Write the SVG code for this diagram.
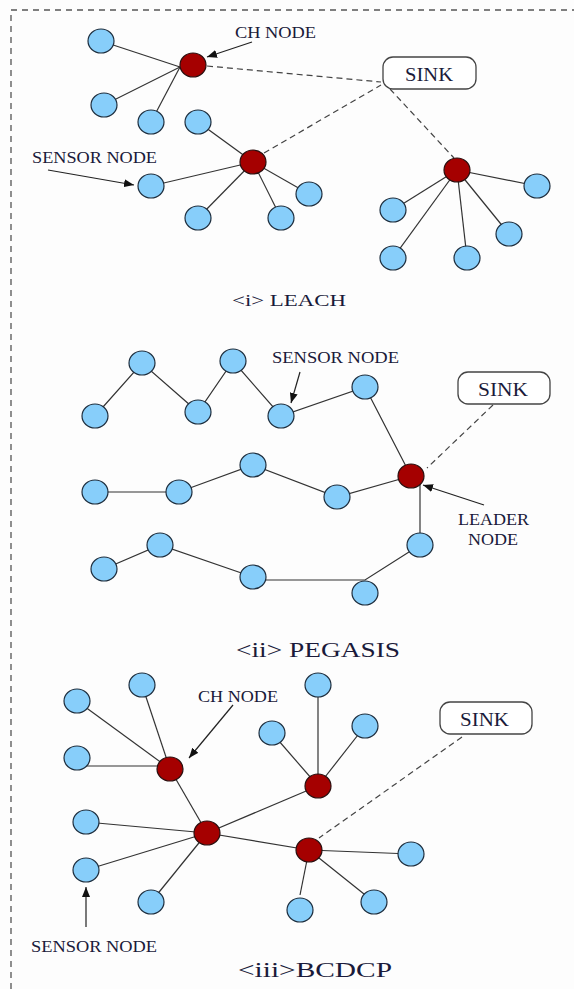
<svg xmlns="http://www.w3.org/2000/svg" width="574" height="989" viewBox="0 0 574 989">
<defs>
<style>
.bg{fill:#fdfdfd}
.frame{fill:none;stroke:#555;stroke-width:1.3;stroke-dasharray:6 5}
.s{fill:#87cefa;stroke:#1e2e3e;stroke-width:1.2}
.ch{fill:#a50000;stroke:#2a1010;stroke-width:1.2}
.e{stroke:#333;stroke-width:1.2;fill:none}
.d{stroke:#444;stroke-width:1.2;fill:none;stroke-dasharray:6 4}
.a{stroke:#222;stroke-width:1.2;fill:none;marker-end:url(#ah)}
.sink{fill:#fff;stroke:#444;stroke-width:1.3}
.t{font-family:"Liberation Serif","Times New Roman",serif;fill:#1a1a3a}
</style>
<marker id="ah" viewBox="0 0 10 8" refX="10" refY="4" markerWidth="10" markerHeight="8" markerUnits="userSpaceOnUse" orient="auto">
<path d="M0,0 L10,4 L0,8 Z" fill="#111"/>
</marker>
</defs>
<rect class="bg" x="0" y="0" width="574" height="989"/>
<path class="frame" d="M11,989 V10 H574"/>

<g id="connectors">
<!-- LEACH -->
<line class="e" x1="101" y1="41" x2="180" y2="67"/>
<line class="e" x1="104" y1="105" x2="180" y2="67"/>
<line class="e" x1="151" y1="122" x2="180" y2="67"/>
<line class="e" x1="198" y1="122" x2="253" y2="162"/>
<line class="e" x1="151" y1="186" x2="253" y2="162"/>
<line class="e" x1="198" y1="218" x2="253" y2="162"/>
<line class="e" x1="281" y1="218" x2="253" y2="162"/>
<line class="e" x1="309" y1="194" x2="253" y2="162"/>
<line class="e" x1="393" y1="210" x2="457" y2="170"/>
<line class="e" x1="393" y1="258" x2="457" y2="170"/>
<line class="e" x1="467" y1="258" x2="457" y2="170"/>
<line class="e" x1="509" y1="234" x2="457" y2="170"/>
<line class="e" x1="537" y1="186" x2="457" y2="170"/>
<line class="d" x1="207" y1="66" x2="381" y2="82"/>
<line class="d" x1="264" y1="153" x2="381" y2="85"/>
<line class="d" x1="390" y1="89" x2="454" y2="158"/>
<!-- PEGASIS -->
<polyline class="e" points="95,416 142,363 198,412 233,361 281,416 365,387 411,476"/>
<polyline class="e" points="95,492 179,492 253,465 337,497 411,476"/>
<line class="e" x1="420" y1="485" x2="420" y2="545"/>
<polyline class="e" points="420,545 365,580 253,580"/>
<polyline class="e" points="253,577 160,545 104,569"/>
<line class="d" x1="493" y1="405" x2="427" y2="468"/>
<!-- BCDCP -->
<line class="e" x1="77" y1="701" x2="170" y2="769"/>
<line class="e" x1="142" y1="685" x2="170" y2="769"/>
<line class="e" x1="77" y1="766" x2="170" y2="766"/>
<line class="e" x1="170" y1="769" x2="207" y2="833"/>
<line class="e" x1="318" y1="685" x2="318" y2="786"/>
<line class="e" x1="272" y1="733" x2="318" y2="786"/>
<line class="e" x1="365" y1="726" x2="318" y2="786"/>
<line class="e" x1="318" y1="786" x2="207" y2="833"/>
<line class="e" x1="86" y1="822" x2="207" y2="833"/>
<line class="e" x1="86" y1="870" x2="207" y2="833"/>
<line class="e" x1="151" y1="902" x2="207" y2="833"/>
<line class="e" x1="207" y1="833" x2="309" y2="850"/>
<line class="e" x1="411" y1="854" x2="309" y2="850"/>
<line class="e" x1="374" y1="902" x2="309" y2="850"/>
<line class="e" x1="309" y1="850" x2="300" y2="895"/>
<line class="d" x1="462" y1="737" x2="319" y2="838"/>
<!-- label arrows -->
<line class="a" x1="252" y1="42" x2="207" y2="57"/>
<line class="a" x1="48" y1="170" x2="134" y2="185"/>
<line class="a" x1="300" y1="372" x2="291" y2="403"/>
<line class="a" x1="484" y1="505" x2="423" y2="485"/>
<line class="a" x1="233" y1="705" x2="189" y2="758"/>
<line class="a" x1="86" y1="927" x2="86" y2="887"/>
</g>

<!-- LEACH nodes -->
<g id="l-s1"><ellipse class="s" cx="101" cy="41" rx="13" ry="12"/></g>
<g id="l-s2"><ellipse class="s" cx="104" cy="105" rx="13" ry="12"/></g>
<g id="l-s3"><ellipse class="s" cx="151" cy="122" rx="13" ry="12"/></g>
<g id="l-s4"><ellipse class="s" cx="198" cy="122" rx="13" ry="12"/></g>
<g id="l-s5"><ellipse class="s" cx="151" cy="186" rx="13" ry="12"/></g>
<g id="l-s6"><ellipse class="s" cx="198" cy="218" rx="13" ry="12"/></g>
<g id="l-s7"><ellipse class="s" cx="281" cy="218" rx="13" ry="12"/></g>
<g id="l-s8"><ellipse class="s" cx="309" cy="194" rx="13" ry="12"/></g>
<g id="l-s9"><ellipse class="s" cx="393" cy="210" rx="13" ry="12"/></g>
<g id="l-s10"><ellipse class="s" cx="393" cy="258" rx="13" ry="12"/></g>
<g id="l-s11"><ellipse class="s" cx="467" cy="258" rx="13" ry="12"/></g>
<g id="l-s12"><ellipse class="s" cx="509" cy="234" rx="13" ry="12"/></g>
<g id="l-s13"><ellipse class="s" cx="537" cy="186" rx="13" ry="12"/></g>
<g id="l-ch1"><ellipse class="ch" cx="193" cy="65" rx="13" ry="12"/></g>
<g id="l-ch2"><ellipse class="ch" cx="253" cy="162" rx="13" ry="12"/></g>
<g id="l-ch3"><ellipse class="ch" cx="457" cy="170" rx="13" ry="12"/></g>
<g id="l-sink"><rect class="sink" x="383" y="57" width="93" height="32" rx="10"/><text class="t" x="405" y="81" font-size="19" textLength="48" lengthAdjust="spacingAndGlyphs">SINK</text></g>

<!-- PEGASIS nodes -->
<g id="p-s1"><ellipse class="s" cx="95" cy="416" rx="13" ry="12"/></g>
<g id="p-s2"><ellipse class="s" cx="142" cy="363" rx="13" ry="12"/></g>
<g id="p-s3"><ellipse class="s" cx="198" cy="412" rx="13" ry="12"/></g>
<g id="p-s4"><ellipse class="s" cx="233" cy="361" rx="13" ry="12"/></g>
<g id="p-s5"><ellipse class="s" cx="281" cy="416" rx="13" ry="12"/></g>
<g id="p-s6"><ellipse class="s" cx="365" cy="387" rx="13" ry="12"/></g>
<g id="p-s7"><ellipse class="s" cx="95" cy="492" rx="13" ry="12"/></g>
<g id="p-s8"><ellipse class="s" cx="179" cy="492" rx="13" ry="12"/></g>
<g id="p-s9"><ellipse class="s" cx="253" cy="465" rx="13" ry="12"/></g>
<g id="p-s10"><ellipse class="s" cx="337" cy="497" rx="13" ry="12"/></g>
<g id="p-s11"><ellipse class="s" cx="420" cy="545" rx="13" ry="12"/></g>
<g id="p-s12"><ellipse class="s" cx="365" cy="593" rx="13" ry="12"/></g>
<g id="p-s13"><ellipse class="s" cx="253" cy="577" rx="13" ry="12"/></g>
<g id="p-s14"><ellipse class="s" cx="160" cy="545" rx="13" ry="12"/></g>
<g id="p-s15"><ellipse class="s" cx="104" cy="569" rx="13" ry="12"/></g>
<g id="p-leader"><ellipse class="ch" cx="411" cy="476" rx="13" ry="12"/></g>
<g id="p-sink"><rect class="sink" x="458" y="372" width="92" height="32" rx="10"/><text class="t" x="478" y="396" font-size="19" textLength="50" lengthAdjust="spacingAndGlyphs">SINK</text></g>

<!-- BCDCP nodes -->
<g id="b-s1"><ellipse class="s" cx="77" cy="701" rx="13" ry="12"/></g>
<g id="b-s2"><ellipse class="s" cx="142" cy="685" rx="13" ry="12"/></g>
<g id="b-s3"><ellipse class="s" cx="77" cy="758" rx="13" ry="12"/></g>
<g id="b-s4"><ellipse class="s" cx="318" cy="685" rx="13" ry="12"/></g>
<g id="b-s5"><ellipse class="s" cx="272" cy="733" rx="13" ry="12"/></g>
<g id="b-s6"><ellipse class="s" cx="365" cy="726" rx="13" ry="12"/></g>
<g id="b-s7"><ellipse class="s" cx="86" cy="822" rx="13" ry="12"/></g>
<g id="b-s8"><ellipse class="s" cx="86" cy="870" rx="13" ry="12"/></g>
<g id="b-s9"><ellipse class="s" cx="151" cy="902" rx="13" ry="12"/></g>
<g id="b-s10"><ellipse class="s" cx="411" cy="854" rx="13" ry="12"/></g>
<g id="b-s11"><ellipse class="s" cx="374" cy="902" rx="13" ry="12"/></g>
<g id="b-s12"><ellipse class="s" cx="300" cy="910" rx="13" ry="12"/></g>
<g id="b-ch1"><ellipse class="ch" cx="170" cy="769" rx="13" ry="12"/></g>
<g id="b-ch2"><ellipse class="ch" cx="318" cy="786" rx="13" ry="12"/></g>
<g id="b-ch3"><ellipse class="ch" cx="207" cy="833" rx="13" ry="12"/></g>
<g id="b-ch4"><ellipse class="ch" cx="309" cy="850" rx="13" ry="12"/></g>
<g id="b-sink"><rect class="sink" x="440" y="702" width="92" height="32" rx="10"/><text class="t" x="460" y="726" font-size="19" textLength="49" lengthAdjust="spacingAndGlyphs">SINK</text></g>

<!-- labels -->
<g id="labels">
<text class="t" x="235" y="38" font-size="16" textLength="81" lengthAdjust="spacingAndGlyphs">CH NODE</text>
<text class="t" x="32" y="163" font-size="16" textLength="125" lengthAdjust="spacingAndGlyphs">SENSOR NODE</text>
<text class="t" x="232" y="306" font-size="16" textLength="114" lengthAdjust="spacingAndGlyphs">&lt;i&gt;  LEACH</text>
<text class="t" x="272" y="363" font-size="16" textLength="127" lengthAdjust="spacingAndGlyphs">SENSOR NODE</text>
<text class="t" x="458" y="525" font-size="16" textLength="71" lengthAdjust="spacingAndGlyphs">LEADER</text>
<text class="t" x="468" y="545" font-size="16" textLength="50" lengthAdjust="spacingAndGlyphs">NODE</text>
<text class="t" x="236" y="657" font-size="21" textLength="164" lengthAdjust="spacingAndGlyphs">&lt;ii&gt; PEGASIS</text>
<text class="t" x="198" y="702" font-size="16" textLength="80" lengthAdjust="spacingAndGlyphs">CH NODE</text>
<text class="t" x="31" y="952" font-size="16" textLength="126" lengthAdjust="spacingAndGlyphs">SENSOR NODE</text>
<text class="t" x="238" y="977" font-size="21" textLength="154" lengthAdjust="spacingAndGlyphs">&lt;iii&gt;BCDCP</text>
</g>
</svg>
